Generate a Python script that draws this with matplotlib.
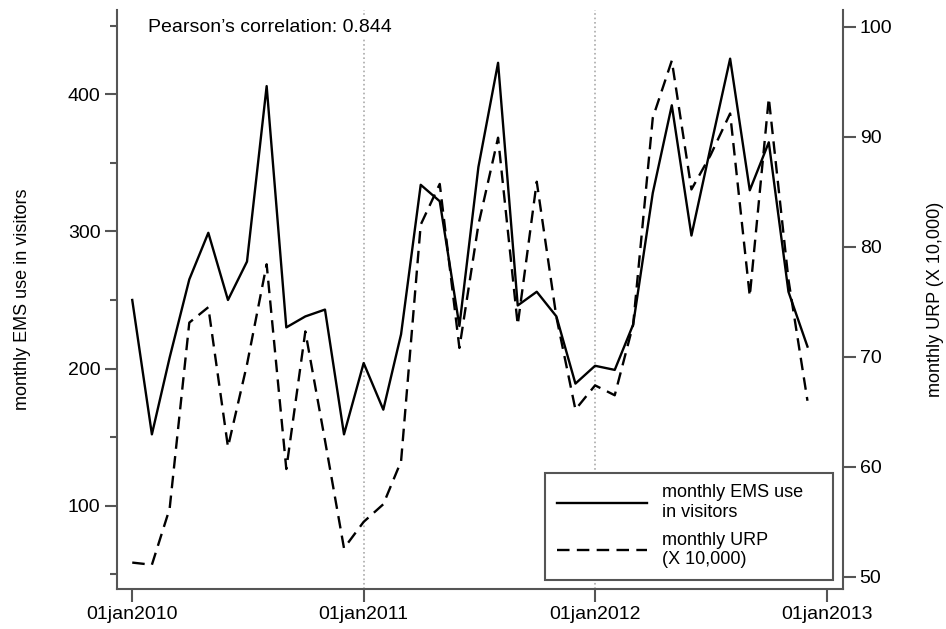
import numpy as np
import pandas as pd
import matplotlib
matplotlib.use("Agg")
import matplotlib.pyplot as plt

plt.rcParams['font.family'] = ['Liberation Sans', 'DejaVu Sans']

# monthly series, Jan 2010 - Dec 2012
months = pd.date_range('2010-01-01', periods=36, freq='MS')

ems = [250, 152, 208, 265, 299, 250, 278, 406, 230, 238, 243, 152,
       204, 170, 225, 334, 322, 231, 347, 423, 246, 256, 238, 189,
       202, 199, 232, 328, 392, 297, 361, 426, 330, 365, 256, 216]

urp = [51.3, 51.1, 56.2, 73.1, 74.5, 61.8, 69.3, 78.4, 59.8, 72.3, 62.4, 52.6,
       55.0, 56.6, 60.5, 82.0, 85.7, 70.8, 82.0, 89.9, 72.9, 85.9, 73.6, 65.2,
       67.4, 66.5, 72.9, 91.7, 96.9, 85.2, 88.3, 92.1, 75.5, 93.5, 77.0, 66.0]

year_ticks = pd.to_datetime(['2010-01-01', '2011-01-01', '2012-01-01', '2013-01-01'])
year_labels = ['01jan2010', '01jan2011', '01jan2012', '01jan2013']
vlines = pd.to_datetime(['2011-01-01', '2012-01-01'])

spine_col = '#555555'

fig = plt.figure(figsize=(9.46, 6.29), dpi=100)
ax = fig.add_axes([0.1237, 0.0636, 0.7674, 0.9205])
ax2 = ax.twinx()

for v in vlines:
    ax.axvline(v, color='#aaaaaa', linestyle=':', linewidth=1.2, zorder=0)

l1, = ax.plot(months, ems, color='black', linewidth=1.7, label='monthly EMS use\nin visitors')
l2, = ax2.plot(months, urp, color='black', linewidth=1.7, dashes=(5.3, 3.1),
               label='monthly URP\n(X 10,000)')

ax.set_xlim(pd.Timestamp('2009-12-08'), pd.Timestamp('2013-01-26'))
ax.set_ylim(39.2, 461.5)
ax2.set_ylim(48.9, 101.5)

ax.set_xticks(year_ticks)
ax.set_xticklabels(year_labels)
ax.set_yticks([100, 200, 300, 400])
ax.set_yticks([50, 150, 250, 350, 450], minor=True)
ax2.set_yticks([50, 60, 70, 80, 90, 100])

for a in (ax, ax2):
    a.spines['top'].set_visible(False)
    for s in a.spines.values():
        s.set_color(spine_col)
        s.set_linewidth(1.5)
ax.spines['right'].set_visible(False)
ax2.spines['left'].set_visible(False)
ax2.spines['bottom'].set_visible(False)

ax.tick_params(axis='x', length=9, width=1.5, color=spine_col, labelsize=14, pad=3)
ax.tick_params(axis='y', which='major', length=9, width=1.5, color=spine_col, labelsize=14, pad=3)
ax.tick_params(axis='y', which='minor', length=5, width=1.5, color=spine_col)
ax2.tick_params(axis='y', length=9, width=1.5, color=spine_col, labelsize=14, pad=3)

ax.set_ylabel('monthly EMS use in visitors', fontsize=13, labelpad=26)
ax2.set_ylabel('monthly URP (X 10,000)', fontsize=13, labelpad=25)

ax.text(0.0427, 0.9706, 'Pearson\u2019s correlation: 0.844', transform=ax.transAxes,
        fontsize=14, ha='left', va='center',
        bbox=dict(facecolor='white', edgecolor='none', pad=2))

leg = ax2.legend([l1, l2], [l1.get_label(), l2.get_label()],
                 loc='lower left', bbox_to_anchor=(0.5895, 0.0155, 0.3967, 0.2),
                 mode='expand', borderaxespad=0, fontsize=13, handlelength=5.0,
                 handletextpad=0.85, labelspacing=0.6, borderpad=0.65,
                 fancybox=False, framealpha=1)
leg.get_frame().set_edgecolor(spine_col)
leg.get_frame().set_linewidth(1.5)

fig.savefig('out.png', dpi=100)
